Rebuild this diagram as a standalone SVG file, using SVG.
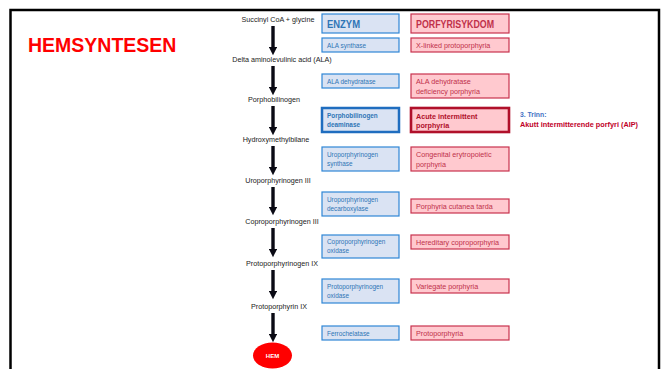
<svg xmlns="http://www.w3.org/2000/svg" width="666" height="369" viewBox="0 0 666 369">
<style>
.lbl{font-family:"Liberation Sans",Arial,sans-serif;font-size:7.2px;fill:#222;text-anchor:middle}
.eb{fill:#dae3f3;stroke:#2f86d6;stroke-width:1.2}
.ebt{fill:#dae3f3;stroke:#1f6dbf;stroke-width:2.5}
.db{fill:#ffc9cf;stroke:#c8324e;stroke-width:1.2}
.dbt{fill:#ffc9cf;stroke:#b0102a;stroke-width:2.6}
.et{font-family:"Liberation Sans",Arial,sans-serif;font-size:6.4px;fill:#2e75b6}
.dt{font-family:"Liberation Sans",Arial,sans-serif;font-size:7.2px;fill:#c0304a}
.bold{font-weight:bold}
.big{font-size:10px}
.dk{fill:#b0102a}
.note{font-family:"Liberation Sans",Arial,sans-serif;font-size:6.8px;font-weight:bold}
.arr{stroke:#0a0a14;stroke-width:3.4;marker-end:url(#ah)}
</style>
<defs>
<marker id="ah" markerWidth="3" markerHeight="2.4" refX="0" refY="1.2" orient="auto" markerUnits="strokeWidth">
<path d="M0,0 L2.4,1.2 L0,2.4 Z" fill="#0a0a14"/>
</marker>
</defs>
<rect width="666" height="369" fill="#fff"/>
<path d="M10.5,369 V10 H659 V369" fill="none" stroke="#000" stroke-width="2.5"/>
<text x="28" y="52" font-family="'Liberation Sans',Arial,sans-serif" font-size="19.5" font-weight="bold" fill="#ff0000">HEMSYNTESEN</text>

<g id="connectors">
<line class="arr" x1="273" y1="26" x2="273" y2="47"/>
<line class="arr" x1="273" y1="66" x2="273" y2="87"/>
<line class="arr" x1="273" y1="106" x2="273" y2="127"/>
<line class="arr" x1="273" y1="146" x2="273" y2="167"/>
<line class="arr" x1="273" y1="187" x2="273" y2="207"/>
<line class="arr" x1="273" y1="228" x2="273" y2="249"/>
<line class="arr" x1="273" y1="270" x2="273" y2="291"/>
<line class="arr" x1="273" y1="313" x2="273" y2="334"/>
</g>

<g id="n-succinyl"><text class="lbl" x="278" y="21.5">Succinyl CoA + glycine</text></g>
<g id="n-ala"><text class="lbl" x="282" y="61.5">Delta aminolevulinic  acid (ALA)</text></g>
<g id="n-pbg"><text class="lbl" x="274" y="101.5">Porphobilinogen</text></g>
<g id="n-hmb"><text class="lbl" x="276" y="141.5">Hydroxymethylbilane</text></g>
<g id="n-uro"><text class="lbl" x="278" y="182.5">Uroporphyrinogen  III</text></g>
<g id="n-copro"><text class="lbl" x="282" y="223.5">Coproporphyrinogen  III</text></g>
<g id="n-protogen"><text class="lbl" x="282" y="265.5">Protoporphyrinogen  IX</text></g>
<g id="n-proto"><text class="lbl" x="279" y="308.5">Protoporphyrin  IX</text></g>
<g id="n-hem">
<ellipse cx="272.5" cy="355.5" rx="19.5" ry="13" fill="#ff0000"/>
<text x="272.5" y="357.5" text-anchor="middle" font-family="'Liberation Sans',Arial,sans-serif" font-size="6" font-weight="bold" fill="#fff">HEM</text>
</g>

<g id="h-enzym"><rect class="eb" x="322" y="14" width="77" height="19"/><text class="et bold big" x="327" y="27.5" textLength="33" lengthAdjust="spacingAndGlyphs">ENZYM</text></g>
<g id="h-porf"><rect class="db" x="411" y="14" width="98" height="19"/><text class="dt bold big" x="416" y="27.5" textLength="78" lengthAdjust="spacingAndGlyphs">PORFYRISYKDOM</text></g>

<g id="e1"><rect class="eb" x="322" y="38" width="77" height="14"/><text class="et" x="327" y="47.5">ALA synthase</text></g>
<g id="e2"><rect class="eb" x="322" y="74" width="77" height="14"/><text class="et" x="327" y="83.5">ALA dehydratase</text></g>
<g id="e3"><rect class="ebt" x="322" y="108" width="77" height="24"/><text class="et bold" x="327" y="117.5">Porphobilinogen</text><text class="et bold" x="327" y="126.5">deaminase</text></g>
<g id="e4"><rect class="eb" x="322" y="147" width="77" height="24"/><text class="et" x="327" y="156.5">Uroporphyrinogen</text><text class="et" x="327" y="165.5">synthase</text></g>
<g id="e5"><rect class="eb" x="322" y="192" width="77" height="24"/><text class="et" x="327" y="201.5">Uroporphyrinogen</text><text class="et" x="327" y="210.5">decarboxylase</text></g>
<g id="e6"><rect class="eb" x="322" y="235" width="77" height="23"/><text class="et" x="327" y="244">Coproporphyrinogen</text><text class="et" x="327" y="253">oxidase</text></g>
<g id="e7"><rect class="eb" x="322" y="279" width="77" height="24"/><text class="et" x="327" y="288.5">Protoporphyrinogen</text><text class="et" x="327" y="297.5">oxidase</text></g>
<g id="e8"><rect class="eb" x="322" y="326" width="77" height="14"/><text class="et" x="327" y="335.5">Ferrochelatase</text></g>

<g id="d1"><rect class="db" x="411" y="38" width="98" height="14"/><text class="dt" x="416" y="47.5">X-linked  protoporphyria</text></g>
<g id="d2"><rect class="db" x="411" y="74" width="98" height="24"/><text class="dt" x="416" y="84">ALA dehydratase</text><text class="dt" x="416" y="93.5">deficiency porphyria</text></g>
<g id="d3"><rect class="dbt" x="411" y="108" width="98" height="24"/><text class="dt bold dk" x="416" y="118.5">Acute intermittent</text><text class="dt bold dk" x="416" y="128">porphyria</text></g>
<g id="d4"><rect class="db" x="411" y="147" width="98" height="24"/><text class="dt" x="416" y="157">Congenital erytropoietic</text><text class="dt" x="416" y="166.5">porphyria</text></g>
<g id="d5"><rect class="db" x="411" y="199" width="98" height="14"/><text class="dt" x="416" y="208.5">Porphyria  cutanea tarda</text></g>
<g id="d6"><rect class="db" x="411" y="235" width="98" height="14"/><text class="dt" x="416" y="244.5">Hereditary coproporphyria</text></g>
<g id="d7"><rect class="db" x="411" y="279" width="98" height="14"/><text class="dt" x="416" y="288.5">Variegate  porphyria</text></g>
<g id="d8"><rect class="db" x="411" y="326" width="98" height="14"/><text class="dt" x="416" y="335.5">Protoporphyria</text></g>

<g id="note">
<text class="note" x="520" y="117" fill="#4472c4">3. Trinn:</text>
<text class="note" x="520" y="126.5" fill="#c00028" textLength="118" lengthAdjust="spacingAndGlyphs">Akutt intermitterende porfyri (AIP)</text>
</g>
</svg>
